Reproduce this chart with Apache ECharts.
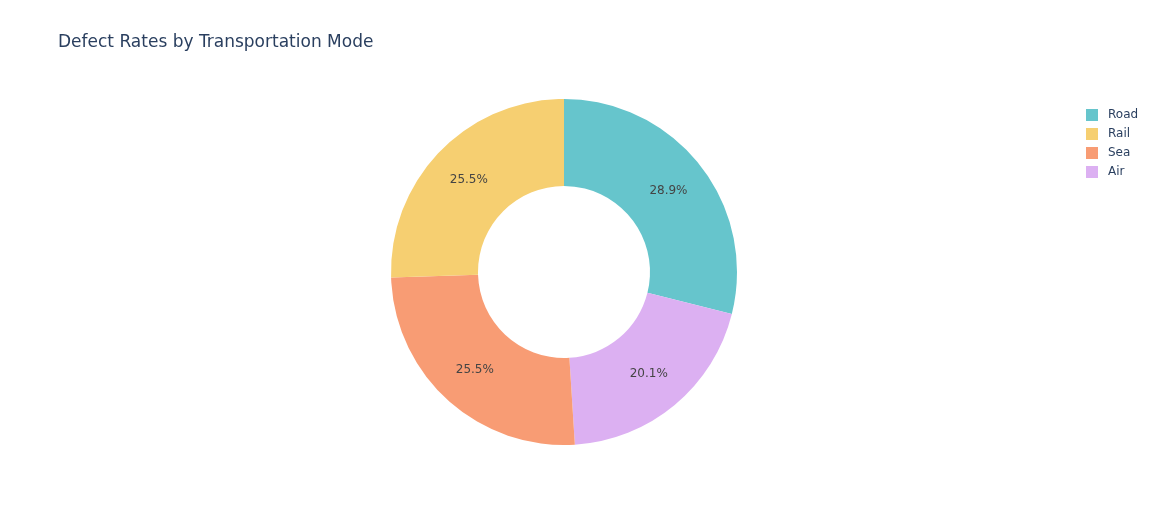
<!DOCTYPE html>
<html>
<head>
<meta charset="utf-8">
<script src="https://cdn.jsdelivr.net/npm/echarts@6/dist/echarts.min.js"></script>
<style>
html,body{margin:0;padding:0;background:#fff;}
#chart{width:1155px;height:525px;}
</style>
</head>
<body>
<div id="chart"></div>
<script>
// Slices in clockwise drawing order from 12 o'clock
const categories = ['Road', 'Air', 'Sea', 'Rail'];
const values = [28.9, 20.1, 25.5, 25.5];
const colors = ['#66C5CC', '#DCB0F2', '#F89C74', '#F6CF71'];
const legendOrder = ['Road', 'Rail', 'Sea', 'Air'];

const chart = echarts.init(document.getElementById('chart'), null, {renderer: 'canvas'});
const font = '"DejaVu Sans", Verdana, sans-serif';
chart.setOption({
  animation: false,
  backgroundColor: '#ffffff',
  title: {
    text: 'Defect Rates by Transportation Mode',
    left: 58, top: 34, padding: 0,
    textStyle: {fontFamily: font, fontSize: 17, fontWeight: 'normal', color: '#2a3f5f'}
  },
  legend: {
    data: legendOrder,
    orient: 'vertical',
    left: 1081, top: 104,
    itemWidth: 12, itemHeight: 12, itemGap: 7,
    icon: 'rect',
    textStyle: {fontFamily: font, fontSize: 12, color: '#2a3f5f', padding: [0, 0, 0, 5]}
  },
  series: [{
    type: 'pie',
    center: [564, 272],
    radius: [86, 173],
    startAngle: 90,
    clockwise: true,
    percentPrecision: 1,
    avoidLabelOverlap: false,
    label: {
      position: 'inside',
      formatter: '{d}%',
      fontFamily: font, fontSize: 12, color: '#444444'
    },
    labelLine: {show: false},
    emphasis: {disabled: true},
    itemStyle: {borderWidth: 0},
    data: categories.map((c, i) => ({name: c, value: values[i], itemStyle: {color: colors[i]}}))
  }]
});
</script>
</body>
</html>
